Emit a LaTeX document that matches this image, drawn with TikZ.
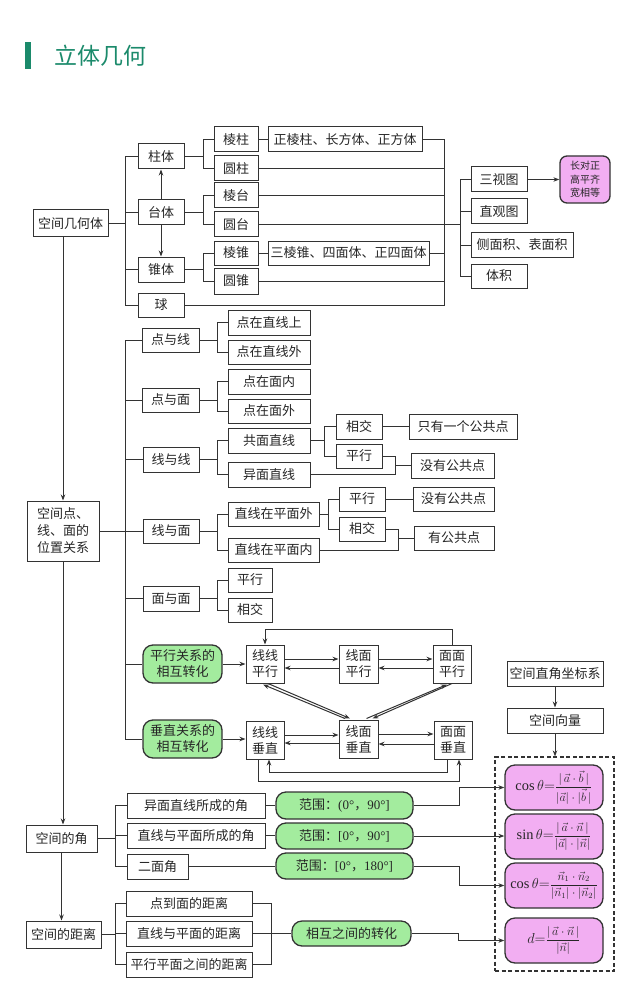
\documentclass[tikz,border=0pt]{standalone}
\usepackage{fontspec}
\usepackage{amsmath}
\setmainfont{Liberation Serif}
\newfontfamily\cjk{Noto Sans CJK SC}
\usetikzlibrary{arrows.meta,calc}
\definecolor{ln}{HTML}{333333}
\definecolor{gfill}{HTML}{A3EC9E}
\definecolor{pfill}{HTML}{F2AEF2}
\definecolor{ttl}{HTML}{1B8A6B}
\newcommand\lat[1]{{\rmfamily #1}}
\newcommand\lhs[1]{{\Large$#1{=}$}}
\newcommand\rhs[2]{{\large$\dfrac{#1}{#2}$}}
\newcommand\B[7][bx]{\node[#1,minimum width={(#5-#3)*1pt},minimum height={(#6-#4)*1pt}] (#2) at ({(#3+#5)/2},{(#4+#6)/2}) {#7};}
\tikzset{
 bx/.style={draw=ln, line width=1pt, fill=white, inner sep=0pt, align=center, font=\cjk\fontsize{13}{16}\selectfont, text=black!85},
 gbx/.style={bx, fill=gfill, rounded corners=9pt, line width=1.3pt, draw=black!80},
 pbx/.style={bx, fill=pfill, rounded corners=10pt, line width=1.3pt, draw=black!80, font=\rmfamily},
 dbx/.style={draw=ln, line width=1.2pt, dash pattern=on 4pt off 2.5pt, inner sep=0pt},
 cn/.style={draw=ln, line width=1pt},
 arr/.style={cn, -{Stealth[length=6pt,width=4.5pt]}},
}
\begin{document}
\begin{tikzpicture}[x=1pt,y=-1pt]
\useasboundingbox (0,0) rectangle (640,992);
% title
\fill[ttl] (25,42) rectangle (31,69);
\node[anchor=west, text=ttl, font=\cjk\fontsize{23}{23}\selectfont, inner sep=0pt] (title) at (54,55.5) {立体几何};

% ---------- top section ----------
\B{kjjht}{33}{210}{108}{237}{空间几何体}
\B{zt}{138}{144}{184}{169}{柱体}
\B{tt}{138}{200}{184}{225}{台体}
\B{zhui}{138}{257}{184}{282}{锥体}
\B{qiu}{138}{293}{184}{317}{球}
\B{lz}{214}{127}{258}{152}{棱柱}
\B{yz}{214}{156}{258}{181}{圆柱}
\B{lt}{214}{183}{258}{208}{棱台}
\B{yt}{214}{212}{258}{237}{圆台}
\B{lzh}{214}{241}{258}{265}{棱锥}
\B{yzh}{214}{268}{258}{294}{圆锥}
\B{zlz}{268}{127}{422}{152}{正棱柱、长方体、正方体}
\B{slz}{268}{241}{429}{265}{三棱锥、四面体、正四面体}
\B{stt}{471}{167}{527}{192}{三视图}
\B{zgt}{471}{199}{527}{224}{直观图}
\B{cmj}{471}{233}{573}{257}{侧面积、表面积}
\B{tj}{471}{264}{527}{288}{体积}
\B[pbx,rounded corners=7pt,font=\cjk\fontsize{10}{13.5}\selectfont]{sanshi}{560}{156}{610}{203}{长对正\\高平齐\\宽相等}

\foreach \nm in {zt,tt,zhui,qiu} \draw[cn] (kjjht.east) -- ++(17,0) |- (\nm.west);
\draw[arr] (tt.north) -- (zt.south);
\draw[arr] (tt.south) -- (zhui.north);
\foreach \p/\nm in {zt/lz,zt/yz,tt/lt,tt/yt,zhui/lzh,zhui/yzh} \draw[cn] (\p.east) -- ++(19,0) |- (\nm.west);
\draw[cn] (lz.east) -- (zlz.west);
\draw[cn] (lzh.east) -- (slz.west);
\coordinate (c1) at (444,224.5);
\coordinate (c2) at (460,224.5);
\foreach \nm in {zlz,yz,lt,yt,slz,yzh,qiu} \draw[cn] (\nm.east) -| (c1);
\draw[cn] (c1) -- (c2);
\foreach \nm in {stt,zgt,cmj,tj} \draw[cn] (c2) |- (\nm.west);
\draw[arr] (stt.east) -- (sanshi.west);

% ---------- middle section ----------
\B[bx,font=\cjk\fontsize{13}{17}\selectfont]{dian}{27}{501}{99}{561}{空间点、\\线、面的\\位置关系}
\draw[arr] (kjjht.south -| dian.north) -- (dian.north);
\coordinate (t2) at (125,531);
\draw[cn] (dian.east) -- (dian.east -| t2);
\B{dyx}{142}{328}{199}{352}{点与线}
\B{dym}{142}{388}{199}{412}{点与面}
\B{xyx}{143}{447}{199}{472}{线与线}
\B{xym}{143}{519}{199}{543}{线与面}
\B{mym}{143}{586}{199}{611}{面与面}
\B[gbx,rounded corners=10pt]{pxgx}{143}{645}{222}{683}{平行关系的\\相互转化}
\B[gbx,rounded corners=10pt]{czgx}{143}{720}{222}{758}{垂直关系的\\相互转化}
\foreach \nm in {dyx,dym,xyx,xym,mym,pxgx,czgx} \draw[cn] (t2) |- (\nm.west);

\B{dzxs}{228}{310}{310}{335}{点在直线上}
\B{dzxw}{228}{340}{310}{364}{点在直线外}
\B{dzmn}{228}{369}{310}{394}{点在面内}
\B{dzmw}{228}{399}{310}{423}{点在面外}
\B{gmzx}{228}{428}{310}{453}{共面直线}
\B{ymzx}{228}{462}{310}{487}{异面直线}
\B{zxw}{228}{502}{319}{526}{直线在平面外}
\B{zxn}{228}{538}{319}{562}{直线在平面内}
\B{mpx}{228}{568}{272}{592}{平行}
\B{mxj}{228}{598}{272}{622}{相交}
\foreach \p/\nm in {dyx/dzxs,dyx/dzxw,dym/dzmn,dym/dzmw,xyx/gmzx,xyx/ymzx,xym/zxw,xym/zxn,mym/mpx,mym/mxj} \draw[cn] (\p.east) -- ++(18,0) |- (\nm.west);

\B{xj1}{336}{414}{382}{439}{相交}
\B{px1}{336}{444}{382}{468}{平行}
\B{only}{409}{414}{517}{439}{只有一个公共点}
\B{mg1}{411}{453}{494}{478}{没有公共点}
\draw[cn] (gmzx.east) -- ++(14,0) |- (xj1.west);
\draw[cn] (gmzx.east) -- ++(14,0) |- (px1.west);
\draw[cn] (xj1.east) -- (only.west);
\coordinate (m1) at (395,465.5);
\draw[cn] (px1.east) -| (m1);
\draw[cn] (ymzx.east) -| (m1);
\draw[cn] (m1) -- (m1 -| mg1.west);

\B{px2}{339}{487}{385}{511}{平行}
\B{xj2}{339}{517}{385}{541}{相交}
\B{mg2}{413}{487}{494}{511}{没有公共点}
\B{ygg}{414}{526}{494}{550}{有公共点}
\draw[cn] (zxw.east) -- ++(9,0) |- (px2.west);
\draw[cn] (zxw.east) -- ++(9,0) |- (xj2.west);
\draw[cn] (px2.east) -- (mg2.west);
\coordinate (m2) at (398,538);
\draw[cn] (xj2.east) -| (m2);
\draw[cn] (zxn.east) -| (m2);
\draw[cn] (m2) -- (m2 -| ygg.west);

% parallel / perpendicular conversions
\B{xxpx}{246}{645}{284}{683}{线线\\平行}
\B{xmpx}{339}{645}{378}{683}{线面\\平行}
\B{mmpx}{433}{645}{471}{683}{面面\\平行}
\B{xxcz}{246}{721}{284}{759}{线线\\垂直}
\B{xmcz}{339}{720}{378}{758}{线面\\垂直}
\B{mmcz}{434}{721}{472}{759}{面面\\垂直}
\draw[arr] (pxgx.east) -- (pxgx.east -| xxpx.west);
\draw[arr] (czgx.east) -- (czgx.east -| xxcz.west);
\draw[arr] ([yshift=5pt]xxpx.east) -- ([yshift=5pt]xxpx.east -| xmpx.west);
\draw[arr] ([yshift=-4pt]xmpx.west) -- ([yshift=-4pt]xmpx.west -| xxpx.east);
\draw[arr] ([yshift=5pt]xmpx.east) -- ([yshift=5pt]xmpx.east -| mmpx.west);
\draw[arr] ([yshift=-4pt]mmpx.west) -- ([yshift=-4pt]mmpx.west -| xmpx.east);
\draw[arr] (mmpx.north) -- ++(0,-15) -| (xxpx.north);
\draw[arr] ([yshift=5pt]xxcz.east) -- ([yshift=5pt]xxcz.east -| xmcz.west);
\draw[arr] ([yshift=-4pt]xmcz.west) -- ([yshift=-4pt]xmcz.west -| xxcz.east);
\draw[arr] ([yshift=5pt]xmcz.east) -- ([yshift=5pt]xmcz.east -| mmcz.west);
\draw[arr] ([yshift=-4pt]mmcz.west) -- ([yshift=-4pt]mmcz.west -| xmcz.east);
\draw[arr] ([xshift=-7pt]xxcz.south) -- ++(0,22) -| ([xshift=6pt]mmcz.south);
\draw[arr] ([xshift=-6pt]mmcz.south) -- ++(0,13) -| ([xshift=4pt]xxcz.south);
% diagonal double arrows
\draw[arr] ($(xmcz.north)+(-13.5,-1)$) -- ($(xxpx.south)+(-2,1)$);
\draw[arr] ($(xxpx.south)+(3,0)$) -- ($(xmcz.north)+(-8.5,-1)$);
\draw[arr] ($(xmcz.north)+(8,-1)$) -- ($(mmpx.south)+(-5,1)$);
\draw[arr] ($(mmpx.south)+(0,0)$) -- ($(xmcz.north)+(14,-1)$);

% ---------- right column ----------
\B{zjzb}{507}{661}{603}{686}{空间直角坐标系}
\B{kjxl}{507}{708}{603}{733}{空间向量}
\B[dbx]{dbox}{495}{757}{614}{971}{}
\draw[arr] (zjzb.south) -- (kjxl.north);
\draw[arr] (kjxl.south) -- (kjxl.south |- dbox.north);
\B[pbx]{f1}{505}{765}{603}{810}{\lhs{\cos\theta}\rhs{|\,\vec{a}\cdot\vec{b}\,|}{|\vec{a}|\cdot|\vec{b}\,|}}
\B[pbx]{f2}{505}{814}{603}{859}{\lhs{\sin\theta}\rhs{|\,\vec{a}\cdot\vec{n}\,|}{|\vec{a}|\cdot|\vec{n}|}}
\B[pbx]{f3}{505}{863}{603}{908}{\lhs{\cos\theta}\rhs{\vec{n}_1\cdot\vec{n}_2}{|\vec{n}_1|\cdot|\vec{n}_2|}}
\B[pbx]{f4}{505}{918}{603}{963}{\lhs{d}\rhs{|\,\vec{a}\cdot\vec{n}\,|}{|\vec{n}|}}

% ---------- bottom section ----------
\B{jiao}{26}{825}{97}{852}{空间的角}
\B{juli}{26}{921}{101}{948}{空间的距离}
\draw[arr] (dian.south) -- (dian.south |- jiao.north);
\draw[arr] (jiao.south) -- (jiao.south |- juli.north);
\B{ymj}{127}{793}{265}{818}{异面直线所成的角}
\B{zpj}{127}{823}{265}{848}{直线与平面所成的角}
\B{emj}{127}{854}{188}{879}{二面角}
\foreach \nm in {ymj,zpj,emj} \draw[cn] (jiao.east) -- ++(18,0) |- (\nm.west);
\B[gbx,rounded corners=10pt]{fw1}{276}{792}{413}{819}{范围：\lat{(0°}，\lat{90°]}}
\B[gbx,rounded corners=10pt]{fw2}{276}{823}{413}{849}{范围：\lat{[0°}，\lat{90°]}}
\B[gbx,rounded corners=10pt]{fw3}{276}{853}{413}{879}{范围：\lat{[0°}，\lat{180°]}}
\draw[cn] (ymj.east) -- (ymj.east -| fw1.west);
\draw[cn] (zpj.east) -- (zpj.east -| fw2.west);
\draw[cn] (emj.east) -- (emj.east -| fw3.west);
\draw[arr] (fw1.east) -- ++(46,0) |- (f1.west);
\draw[arr] (fw2.east) -- (fw2.east -| f2.west);
\draw[arr] (fw3.east) -- ++(46,0) |- (f3.west);

\B{ddm}{126}{891}{252}{916}{点到面的距离}
\B{zpd}{126}{921}{252}{946}{直线与平面的距离}
\B{pxd}{126}{952}{252}{977}{平行平面之间的距离}
\foreach \nm in {ddm,zpd,pxd} \draw[cn] (juli.east) -- ++(14,0) |- (\nm.west);
\coordinate (c3) at (271,933.5);
\foreach \nm in {ddm,zpd,pxd} \draw[cn] (\nm.east) -| (c3);
\B[gbx,rounded corners=10pt]{hx}{292}{921}{411}{946}{相互之间的转化}
\draw[cn] (c3) -- (c3 -| hx.west);
\draw[arr] (hx.east) -- ++(47,0) |- (f4.west);
\end{tikzpicture}
\end{document}
